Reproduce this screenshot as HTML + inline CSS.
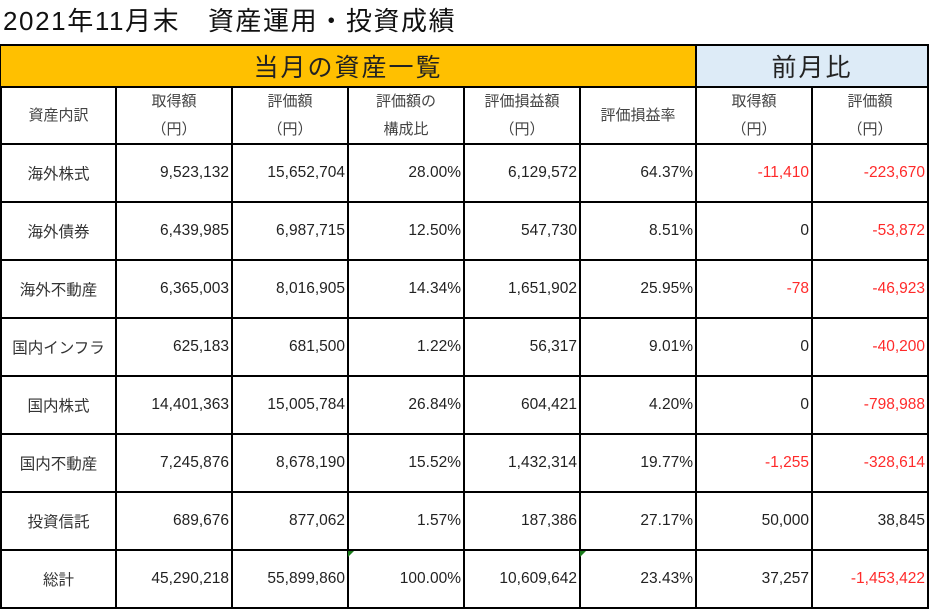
<!DOCTYPE html>
<html><head><meta charset="utf-8">
<style>
body{margin:0;width:932px;height:613px;background:#fff;overflow:hidden;position:relative;font-family:"Liberation Sans","Noto Sans CJK JP",sans-serif;color:#222}
.c{position:absolute;box-sizing:border-box;display:flex;align-items:center;font-size:15.5px;white-space:nowrap}
.h{justify-content:center;text-align:center;line-height:28px;color:#444;font-size:15px}
.n{justify-content:flex-end;padding-right:3px}
.l{justify-content:center;color:#333}
.neg{color:#ff2a2a}
.line{position:absolute;background:#000}
</style></head><body>
<div style="position:absolute;left:3px;top:3px;font-size:26px;letter-spacing:1.6px;line-height:36px;color:#111">2021年11月末　資産運用・投資成績</div>
<div class="c" style="left:0;top:45px;width:696px;height:42px;background:#FFC000;justify-content:center;font-size:25px;letter-spacing:2px">当月の資産一覧</div>
<div class="c" style="left:696px;top:45px;width:232px;height:42px;background:#DDEBF7;justify-content:center;font-size:25px;letter-spacing:2px">前月比</div>
<div id="grid"></div>
<script>
const colHeaders=["資産内訳","取得額<br>(円)","評価額<br>(円)","評価額の<br>構成比","評価損益額<br>(円)","評価損益率","取得額<br>(円)","評価額<br>(円)"];
const categories=["海外株式","海外債券","海外不動産","国内インフラ","国内株式","国内不動産","投資信託","総計"];
const costs=["9,523,132","6,439,985","6,365,003","625,183","14,401,363","7,245,876","689,676","45,290,218"];
const values=["15,652,704","6,987,715","8,016,905","681,500","15,005,784","8,678,190","877,062","55,899,860"];
const shares=["28.00%","12.50%","14.34%","1.22%","26.84%","15.52%","1.57%","100.00%"];
const gains=["6,129,572","547,730","1,651,902","56,317","604,421","1,432,314","187,386","10,609,642"];
const gainRates=["64.37%","8.51%","25.95%","9.01%","4.20%","19.77%","27.17%","23.43%"];
const costDiff=["-11,410","0","-78","0","0","-1,255","50,000","37,257"];
const valueDiff=["-223,670","-53,872","-46,923","-40,200","-798,988","-328,614","38,845","-1,453,422"];
const g=document.getElementById('grid');
const colX=[1,116,232,348,464,580,696,812,928];
const rowY=[87,144,202,260,318,376,434,492,550,608];
function cell(cls,x,y,w,h,html,name){
  const d=document.createElement('div');
  d.className='c '+cls;
  d.style.cssText=`left:${x}px;top:${y}px;width:${w}px;height:${h}px`;
  d.innerHTML=html;
  
  
  g.appendChild(d);
}
colHeaders.forEach((t,i)=>cell('h',colX[i],rowY[0],colX[i+1]-colX[i],rowY[1]-rowY[0],t.replace('(','（').replace(')','）'),'column-header'));
const cols=[costs,values,shares,gains,gainRates,costDiff,valueDiff];
categories.forEach((c,r)=>{
  const y=rowY[r+1],h=rowY[r+2]-y;
  cell('l',colX[0],y,colX[1]-colX[0],h,c,'row-label');
  cols.forEach((arr,i)=>{
    const v=arr[r];
    cell('n'+(i>=5&&v.startsWith('-')?' neg':''),colX[i+1],y,colX[i+2]-colX[i+1],h,v,'value-cell');
  });
});
colX.forEach(x=>{const d=document.createElement('div');d.className='line';d.style.cssText=`left:${x-1}px;top:${rowY[0]}px;width:1.5px;height:${608-rowY[0]}px`;


g.appendChild(d);});
[45,...rowY].forEach(y=>{const d=document.createElement('div');d.className='line';d.style.cssText=`left:0;top:${y-1}px;width:929px;height:1.5px`;


g.appendChild(d);});
[[0,45],[696,45],[928,45]].forEach(p=>{const d=document.createElement('div');d.className='line';d.style.cssText=`left:${p[0]-1}px;top:45px;width:1.5px;height:42px`;


g.appendChild(d);});
[348,580].forEach(x=>{const d=document.createElement('div');d.style.cssText=`position:absolute;left:${x}px;top:551px;width:0;height:0;border-top:6px solid #1a7a1a;border-right:6px solid transparent`;


g.appendChild(d);});
</script>
</body></html>
